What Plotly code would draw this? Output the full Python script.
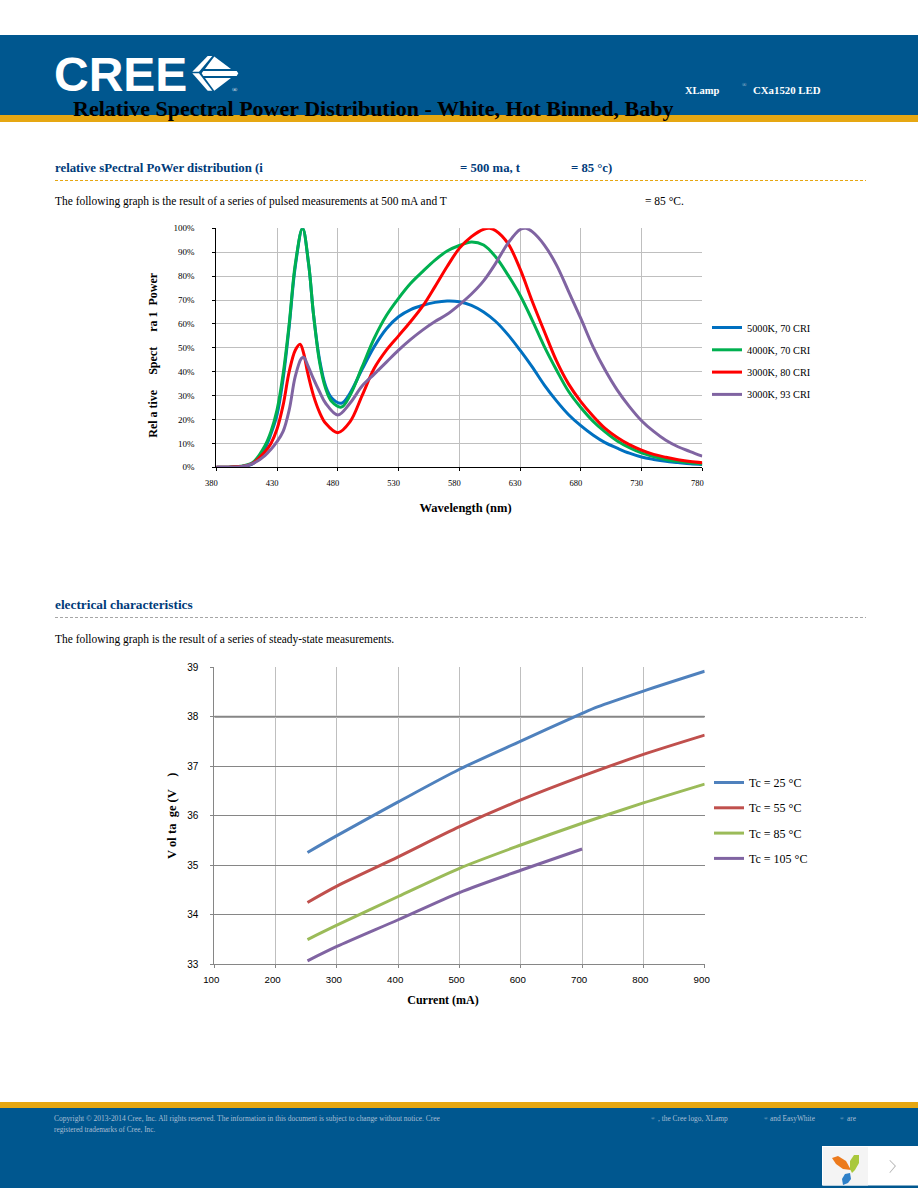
import plotly.graph_objects as go

W, H = 918, 1188

# ---------- spectral data ----------
wl_tick_labels = [380, 430, 480, 530, 580, 630, 680, 730, 780]
pct_ticks = list(range(0, 101, 10))

wl_5000 = [380,390,400,410,420,425,430,435,440,445,451,456,460,465,470,475,483,490,500,510,520,530,540,550,560,570,580,590,600,610,620,630,640,650,660,670,680,690,700,710,720,730,740,750,760,770,780]
val_5000 = [0,0.05,0.3,1.5,8,14,22,37,59,84,100,85,64,45,34,29,26.8,31,41,50.5,58,63,66,67.8,69,69.6,69.3,67.8,65,61,55.5,49,42,34.4,27.8,22,17.4,13.5,10.3,8,5.9,4.3,3.3,2.5,2,1.5,1.2]

wl_4000 = [380,390,400,410,420,425,430,435,440,445,451,456,460,465,470,475,483,490,500,510,520,530,540,550,560,570,580,590,600,610,620,630,640,650,660,670,680,690,700,710,720,730,740,750,760,770,780]
val_4000 = [0,0.05,0.4,2,9,15,24,39,60,85,100,85,64,44,33,27.5,25.2,30,42,54,63.5,70.7,77,82,86.7,90.5,92.8,94.3,93,88,80.5,72,61.6,50.5,40.7,31.7,25,19.3,14.8,11,8.2,6,4.5,3.3,2.5,1.9,1.4]

wl_3000_80 = [380,390,400,410,420,425,430,435,440,445,449,452,455,460,465,470,480,490,500,510,520,530,540,550,560,570,580,590,600,605,610,620,630,640,650,660,670,680,690,700,710,720,730,740,750,760,770,780]
val_3000_80 = [0,0.05,0.3,1.7,6.5,10,16,26,40,49,51.5,47.5,40,30,23,18.4,14.5,19,30,41.4,49,55,61,67.5,75.6,84,91.6,96.5,99.6,100,99,93.7,83,69.5,56.8,44.5,34.8,27.5,21.5,16.3,12.5,9.5,7.2,5.4,4.2,3.2,2.4,1.9]

wl_3000_93 = [380,390,400,410,420,430,435,440,445,450,452,455,460,465,470,480,490,500,510,520,530,540,550,560,570,580,590,600,610,620,630,635,640,650,660,670,680,690,700,710,720,730,740,750,760,770,780]
val_3000_93 = [0,0.05,0.2,1.5,4.9,10.7,15,24,38,45.5,46,43,37,31.6,26.8,21.9,26.8,34,39,44,49,53.5,57.5,61,64,68,72.5,78,85.4,93.7,99.5,100,98.6,93,84.6,73.5,62.3,50.5,40.7,32.3,25.4,19.5,15,11.3,8.6,6.6,4.7]

spectral_names = ["5000K, 70 CRI", "4000K, 70 CRI", "3000K, 80 CRI", "3000K, 93 CRI"]
spectral_colors = ["#0070c0", "#00b050", "#ff0000", "#8064a2"]

# ---------- electrical data ----------
current_ticks = list(range(100, 901, 100))
volt_ticks = list(range(33, 40))
cur_25 = [252, 300, 400, 500, 600, 700, 725, 800, 900]
v_25 = [35.26, 35.6, 36.28, 36.94, 37.51, 38.07, 38.2, 38.52, 38.92]
cur_mid = [252, 300, 400, 500, 600, 700, 800, 900]
v_55 = [34.25, 34.58, 35.17, 35.78, 36.32, 36.8, 37.24, 37.63]
v_85 = [33.5, 33.79, 34.37, 34.94, 35.41, 35.85, 36.26, 36.64]
cur_105 = [252, 300, 400, 500, 600, 700]
v_105 = [33.07, 33.36, 33.9, 34.45, 34.9, 35.33]
elec_names = ["Tc = 25 °C", "Tc = 55 °C", "Tc = 85 °C", "Tc = 105 °C"]
elec_colors = ["#4f81bd", "#c0504d", "#9bbb59", "#8064a2"]

BLUE = "#00578f"
GOLD = "#e6a712"
NAVY = "#003b7a"
SERIF = "Liberation Serif"


def px(x):
    return x / W


def py(y):
    return 1 - y / H


def rect(x0, y0, x1, y1, color, layer="below"):
    return dict(type="rect", xref="paper", yref="paper", x0=px(x0), x1=px(x1),
                y0=py(y0), y1=py(y1), fillcolor=color, line_width=0, layer=layer)


def poly(points, color):
    d = "M" + " L".join(f"{px(a):.5f},{py(b):.5f}" for a, b in points) + " Z"
    return dict(type="path", xref="paper", yref="paper", path=d, fillcolor=color,
                line_width=0, layer="above")


def hline(x0, x1, y, color):
    return dict(type="line", xref="paper", yref="paper", x0=px(x0), x1=px(x1),
                y0=py(y), y1=py(y), line=dict(color=color, width=1, dash="3px,2px"), layer="below")


def text(x, y, s, size=10.5, color="#000000", bold=False, font=SERIF, anchor="left"):
    return dict(xref="paper", yref="paper", x=px(x), y=py(y), text=f"<b>{s}</b>" if bold else s,
                showarrow=False, xanchor=anchor, yanchor="middle",
                font=dict(family=font, size=size, color=color), borderpad=0, borderwidth=0)


fig = go.Figure()

spectral = [(wl_5000, val_5000), (wl_4000, val_4000), (wl_3000_80, val_3000_80), (wl_3000_93, val_3000_93)]
for (xs, ys), n, c in zip(spectral, spectral_names, spectral_colors):
    fig.add_trace(go.Scatter(x=xs, y=ys, name=n, mode="lines", legend="legend", legendgroup=n,
                             line=dict(color=c, width=3, shape="spline", smoothing=1.0),
                             xaxis="x", yaxis="y"))

electrical = [(cur_25, v_25), (cur_mid, v_55), (cur_mid, v_85), (cur_105, v_105)]
for (xs, ys), n, c in zip(electrical, elec_names, elec_colors):
    fig.add_trace(go.Scatter(x=xs, y=ys, name=n, mode="lines", legend="legend2", legendgroup=n,
                             line=dict(color=c, width=3, shape="spline", smoothing=0.8),
                             xaxis="x2", yaxis="y2"))

AX = "#868686"
GRID = "#bfbfbf"

shapes = [
    rect(0, 35, W, 115, BLUE), rect(0, 115, W, 122, GOLD),
    rect(0, 1102, W, 1108, GOLD), rect(0, 1108, W, H, BLUE),
    rect(822, 1146, W, 1185.5, "#ffffff", "above"), rect(823, 1147, 868, 1185.5, "#f4f4f4", "above"),
    hline(55, 866, 180.5, GOLD), hline(55, 866, 617.5, "#a6a6a6"),
    # heavier 38 V gridline
    dict(type="line", xref="x2", yref="y2", x0=100, x1=900, y0=38, y1=38,
         line=dict(color=AX, width=2), layer="below"),
    # logo mark
    poly([(192.3, 71.7), (207.7, 56), (212.3, 56), (199, 71.7)], "#ffffff"),
    poly([(192.3, 73.3), (199, 73.3), (212.3, 90.7), (207.7, 90.7)], "#ffffff"),
    poly([(214.3, 56.5), (231, 69), (205, 69)], "#ffffff"),
    poly([(203.3, 71), (236.7, 71), (238.3, 73.3), (236.7, 76), (203.3, 76), (201.7, 73.3)], "#ffffff"),
    poly([(205, 78), (231, 78), (214.3, 90.7)], "#ffffff"),
    # corner widget mark
    poly([(832, 1158), (838, 1156), (846, 1161), (851, 1170), (843, 1169), (836, 1164)], "#ec7a1c"),
    poly([(850, 1169), (850, 1161), (854, 1155), (859, 1155), (859, 1163), (855, 1170), (852, 1173)], "#a9c83c"),
    poly([(850, 1173), (851, 1179), (848, 1183), (843, 1185), (842, 1179), (845, 1174)], "#2f80c8"),
    poly([(890, 1160), (896, 1166), (890, 1173), (889.4, 1172.4), (894.8, 1166), (889.4, 1160.6)], "#b5b5b5"),
]

ann = [
    text(54, 74, "CREE", size=48, color="#ffffff", bold=True, font="Liberation Sans"),
    text(232, 90, "®", size=7, color="#ffffff"),
    text(73, 108, "Relative Spectral Power Distribution - White, Hot Binned, Baby", size=22, color="#000000", bold=True),
    text(685, 90, "XLamp", size=10.5, color="#ffffff", bold=True),
    text(742, 85, "®", size=6, color="#b8c6d8"),
    text(753, 90, "CXa1520 LED", size=10.8, color="#ffffff", bold=True),
    text(55, 168, "relative sPectral PoWer distribution (i", size=12.8, color=NAVY, bold=True),
    text(460, 168, "= 500 ma, t", size=12.7, color=NAVY, bold=True),
    text(571, 168, "= 85 °c)", size=12.7, color=NAVY, bold=True),
    text(55, 201, "The following graph is the result of a series of pulsed measurements at 500 mA and T", size=11.45),
    text(645, 201, "= 85 °C.", size=11.5),
    text(55, 604.5, "electrical characteristics", size=13.3, color=NAVY, bold=True),
    text(55, 639, "The following graph is the result of a series of steady-state measurements.", size=11.45),
    text(54, 1118, "Copyright © 2013-2014 Cree, Inc. All rights reserved. The information in this document is subject to change without notice. Cree", size=7.45, color="#a9bed3"),
    text(54, 1129, "registered trademarks of Cree, Inc.", size=7.3, color="#a9bed3"),
    text(651, 1118, "®", size=5, color="#a9bed3"),
    text(658, 1118, ", the Cree logo, XLamp", size=7.4, color="#a9bed3"),
    text(764, 1118, "®", size=5, color="#a9bed3"),
    text(770, 1118, "and EasyWhite", size=7.4, color="#a9bed3"),
    text(840, 1118, "®", size=5, color="#a9bed3"),
    text(847, 1118, "are", size=7.4, color="#a9bed3"),
]

NB = "\u00a0"

fig.update_layout(
    width=W, height=H, autosize=False,
    margin=dict(l=0, r=0, t=0, b=0, pad=0),
    paper_bgcolor="#ffffff", plot_bgcolor="#ffffff",
    shapes=shapes, annotations=ann,
    font=dict(family=SERIF, color="#000000"),
    xaxis=dict(automargin=False, domain=[px(216.3), px(702.3)], range=[380, 780], tickmode="array",
               tickvals=wl_tick_labels, ticktext=[str(v) for v in wl_tick_labels],
               ticks="outside", ticklen=3, tickcolor="#000000", gridcolor=GRID, gridwidth=1,
               showline=True, linecolor="#000000", mirror=False, zeroline=False,
               ticklabelshift=-5, ticklabelstandoff=4,
               tickfont=dict(family=SERIF, size=8.5),
               title=dict(text=f"<b>{NB*4}Wavelength (nm)</b>", font=dict(family=SERIF, size=12.5), standoff=16),
               anchor="y"),
    yaxis=dict(automargin=False, domain=[py(467.3), py(228.3)], range=[0, 100], tickmode="array",
               tickvals=pct_ticks, ticktext=[f"{v}%" for v in pct_ticks],
               ticks="outside", ticklen=3, tickcolor="#000000", gridcolor=GRID, gridwidth=1,
               showline=True, linecolor="#000000", zeroline=False,
               ticklabelstandoff=16,
               tickfont=dict(family=SERIF, size=9),
               title=dict(text=f"<b>Rel{NB}a{NB}tive{NB*5}Spect{NB*5}ra{NB}1{NB*2}Power{NB*5}</b>",
                          font=dict(family=SERIF, size=12), standoff=13),
               anchor="x"),
    xaxis2=dict(automargin=False, domain=[px(214.3), px(704.7)], range=[100, 900], tickmode="array",
                tickvals=current_ticks, ticktext=[str(v) for v in current_ticks],
                ticks="outside", ticklen=3, tickcolor=AX, gridcolor=GRID, gridwidth=1,
                showline=True, linecolor=AX, zeroline=False,
                ticklabelshift=-3, ticklabelstandoff=3,
                tickfont=dict(family="Liberation Sans", size=9.7),
                title=dict(text=f"<b>Current (mA){NB*11}</b>", font=dict(family=SERIF, size=12), standoff=11),
                anchor="y2"),
    yaxis2=dict(automargin=False, domain=[py(964.3), py(667.3)], range=[33, 39], tickmode="array",
                tickvals=volt_ticks, ticktext=[str(v) for v in volt_ticks],
                ticks="outside", ticklen=3, tickcolor=AX, gridcolor=AX, gridwidth=1,
                showline=True, linecolor=AX, zeroline=False,
                ticklabelstandoff=10,
                tickfont=dict(family="Liberation Sans", size=10),
                title=dict(text=f"<b>V{NB}ol{NB}ta{NB*2}ge{NB}(V{NB*4})</b>",
                           font=dict(family=SERIF, size=12.5), standoff=7),
                anchor="x2"),
    showlegend=True,
    legend=dict(x=px(707), y=py(313), xanchor="left", yanchor="top", bgcolor="rgba(0,0,0,0)",
                font=dict(family=SERIF, size=10.3), tracegroupgap=3.3, itemclick=False, itemdoubleclick=False),
    legend2=dict(x=px(709), y=py(768), xanchor="left", yanchor="top", bgcolor="rgba(0,0,0,0)",
                 font=dict(family=SERIF, size=12), tracegroupgap=6.3, itemclick=False, itemdoubleclick=False),
)

fig.write_html(
    "out.html", config=dict(displayModeBar=False),
    post_script=(
        "var s=document.createElement('style');"
        "s.textContent='html,body{margin:0!important;padding:0!important;overflow:hidden;}"
        "body>div{position:absolute!important;left:0!important;top:0!important;margin:0!important;}';"
        "document.head.appendChild(s);"
    ),
)
